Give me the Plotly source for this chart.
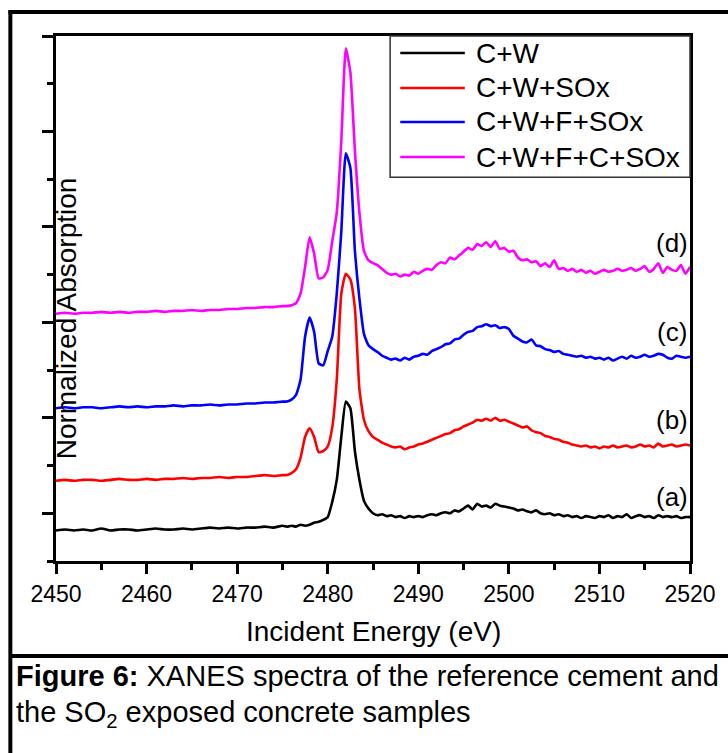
import plotly.graph_objects as go

# ---- data ----
energy_a = [2450, 2451, 2452, 2453, 2454, 2455, 2456, 2457, 2458, 2459,
            2460, 2461, 2462, 2463, 2464, 2465, 2466, 2467, 2468, 2469,
            2470, 2471, 2472, 2473, 2474, 2475]
energy_b = [2475.5, 2476, 2476.5, 2477, 2477.5, 2478, 2478.5, 2479, 2479.5, 2480,
            2480.5, 2481, 2481.5, 2482, 2482.5, 2483, 2483.5, 2484, 2484.5, 2485,
            2485.5, 2486]
energy_c = [2486.5, 2487, 2487.5, 2488, 2488.5, 2489, 2489.5, 2490, 2490.5, 2491,
            2491.5, 2492, 2492.5, 2493, 2493.5, 2494, 2494.5, 2495, 2495.5, 2496,
            2496.5, 2497, 2497.5, 2498, 2498.5, 2499, 2499.5, 2500, 2500.5, 2501,
            2501.5, 2502, 2502.5, 2503, 2503.5, 2504, 2504.5, 2505, 2505.5, 2506,
            2506.5, 2507, 2507.5, 2508, 2508.5, 2509, 2509.5, 2510, 2510.5, 2511,
            2511.5, 2512, 2512.5, 2513, 2513.5, 2514, 2514.5, 2515, 2515.5, 2516,
            2516.5, 2517, 2517.5, 2518, 2518.5, 2519, 2519.5, 2520]
energy = energy_a + energy_b + energy_c

cw = ([0.32, 0.33, 0.32, 0.33, 0.32, 0.34, 0.32, 0.33, 0.33, 0.32,
       0.33, 0.34, 0.33, 0.33, 0.34, 0.33, 0.34, 0.35, 0.34, 0.35,
       0.34, 0.35, 0.35, 0.36, 0.35, 0.37]
      + [0.36, 0.37, 0.36, 0.38, 0.37, 0.38, 0.40, 0.41, 0.43, 0.46,
         0.62, 0.85, 1.30, 1.67, 1.60, 1.15, 0.85, 0.63, 0.55, 0.50,
         0.48, 0.49]
      + [0.47, 0.48, 0.46, 0.47, 0.45, 0.47, 0.46, 0.47, 0.46, 0.48,
         0.49, 0.48, 0.50, 0.51, 0.50, 0.53, 0.52, 0.55, 0.58, 0.54,
         0.60, 0.57, 0.58, 0.56, 0.60, 0.58, 0.57, 0.56, 0.55, 0.53,
         0.54, 0.52, 0.51, 0.53, 0.50, 0.49, 0.50, 0.48, 0.49, 0.47,
         0.48, 0.46, 0.47, 0.45, 0.47, 0.46, 0.45, 0.47, 0.46, 0.48,
         0.45, 0.47, 0.46, 0.49, 0.45, 0.47, 0.48, 0.46, 0.47, 0.45,
         0.48, 0.46, 0.47, 0.46, 0.47, 0.45, 0.46, 0.46])

cw_sox = ([0.84, 0.85, 0.84, 0.85, 0.85, 0.84, 0.85, 0.86, 0.85, 0.85,
           0.86, 0.85, 0.86, 0.86, 0.87, 0.86, 0.87, 0.87, 0.88, 0.87,
           0.88, 0.88, 0.89, 0.90, 0.89, 0.90]
          + [0.90, 0.92, 0.96, 1.08, 1.30, 1.39, 1.30, 1.14, 1.15, 1.20,
             1.40, 1.90, 2.80, 3.01, 2.95, 2.65, 1.80, 1.48, 1.36, 1.30,
             1.27, 1.24]
          + [1.22, 1.20, 1.19, 1.20, 1.17, 1.19, 1.20, 1.22, 1.23, 1.25,
             1.27, 1.29, 1.31, 1.33, 1.34, 1.37, 1.38, 1.41, 1.43, 1.45,
             1.48, 1.47, 1.49, 1.47, 1.50, 1.47, 1.48, 1.46, 1.44, 1.42,
             1.40, 1.41, 1.37, 1.35, 1.34, 1.31, 1.30, 1.28, 1.27, 1.25,
             1.24, 1.22, 1.21, 1.20, 1.21, 1.19, 1.20, 1.18, 1.20, 1.19,
             1.21, 1.19, 1.20, 1.21, 1.19, 1.20, 1.22, 1.20, 1.21, 1.19,
             1.23, 1.20, 1.21, 1.22, 1.20, 1.21, 1.22, 1.21])

cwf_sox = ([1.60, 1.61, 1.60, 1.61, 1.61, 1.60, 1.61, 1.62, 1.61, 1.62,
            1.61, 1.62, 1.62, 1.63, 1.62, 1.63, 1.63, 1.64, 1.63, 1.64,
            1.64, 1.65, 1.65, 1.66, 1.66, 1.67]
           + [1.67, 1.69, 1.74, 1.90, 2.35, 2.55, 2.40, 2.07, 2.05, 2.20,
              2.35, 2.80, 3.45, 4.27, 4.12, 3.25, 2.75, 2.38, 2.26, 2.22,
              2.19, 2.15]
           + [2.13, 2.11, 2.12, 2.10, 2.13, 2.11, 2.14, 2.15, 2.17, 2.16,
              2.20, 2.22, 2.24, 2.27, 2.28, 2.32, 2.33, 2.37, 2.40, 2.41,
              2.45, 2.46, 2.48, 2.46, 2.47, 2.44, 2.45, 2.43, 2.36, 2.33,
              2.30, 2.29, 2.32, 2.26, 2.25, 2.22, 2.21, 2.19, 2.20, 2.17,
              2.16, 2.15, 2.14, 2.15, 2.13, 2.14, 2.12, 2.13, 2.11, 2.13,
              2.10, 2.12, 2.14, 2.12, 2.15, 2.13, 2.14, 2.16, 2.14, 2.15,
              2.17, 2.16, 2.13, 2.12, 2.15, 2.14, 2.13, 2.14])

cwfc_sox = ([2.59, 2.60, 2.59, 2.60, 2.60, 2.61, 2.60, 2.61, 2.60, 2.61,
             2.61, 2.62, 2.61, 2.62, 2.62, 2.63, 2.62, 2.63, 2.63, 2.64,
             2.64, 2.65, 2.65, 2.66, 2.66, 2.67]
            + [2.67, 2.68, 2.70, 2.80, 3.08, 3.39, 3.22, 2.96, 2.97, 3.05,
               3.35, 3.65, 4.40, 5.37, 5.12, 4.30, 3.65, 3.25, 3.15, 3.12,
               3.10, 3.06]
            + [3.02, 3.00, 3.01, 2.98, 3.00, 2.99, 3.03, 3.01, 3.04, 3.06,
               3.05, 3.10, 3.13, 3.12, 3.18, 3.16, 3.20, 3.24, 3.28, 3.26,
               3.32, 3.30, 3.34, 3.29, 3.35, 3.27, 3.28, 3.24, 3.25, 3.18,
               3.15, 3.16, 3.13, 3.14, 3.09, 3.12, 3.08, 3.15, 3.06, 3.07,
               3.04, 3.06, 3.03, 3.05, 3.02, 3.04, 3.01, 3.03, 3.05, 3.03,
               3.04, 3.06, 3.04, 3.05, 3.07, 3.04, 3.06, 3.09, 3.03, 3.06,
               3.12, 3.02, 3.08, 3.05, 3.04, 3.10, 3.01, 3.08])

series_names = ["C+W", "C+W+SOx", "C+W+F+SOx", "C+W+F+C+SOx"]
series_values = [cw, cw_sox, cwf_sox, cwfc_sox]
series_colors = ["#000000", "#ff0000", "#0000ff", "#ff00ff"]

curve_labels = ["(a)", "(b)", "(c)", "(d)"]
curve_label_x = [2518.0, 2518.0, 2518.0, 2518.0]
curve_label_y = [0.67, 1.48, 2.40, 3.33]

x_ticks = [2450, 2460, 2470, 2480, 2490, 2500, 2510, 2520]
x_minor = [2455, 2465, 2475, 2485, 2495, 2505, 2515]
y_ticks = [0.5, 1.5, 2.5, 3.5, 4.5, 5.5]
y_minor = [0, 1, 2, 3, 4, 5]

for v in series_values:
    assert len(v) == len(energy), (len(v), len(energy))

FONT = "Arial, Liberation Sans, sans-serif"

fig = go.Figure()
for name, vals, col in zip(series_names, series_values, series_colors):
    fig.add_trace(go.Scatter(
        x=energy, y=vals, mode="lines", name=name, showlegend=False,
        line=dict(color=col, width=2.6, shape="spline", smoothing=0.5),
    ))

annotations = []
for t, xx, yy in zip(curve_labels, curve_label_x, curve_label_y):
    annotations.append(dict(x=xx, y=yy, xref="x", yref="y", text=t,
                            showarrow=False, font=dict(family=FONT, size=26, color="black")))

# axis titles
annotations.append(dict(x=0.5, y=-0.135, xref="paper", yref="paper",
                        text="Incident Energy (eV)", showarrow=False,
                        xanchor="center", yanchor="middle",
                        font=dict(family=FONT, size=28, color="black")))
annotations.append(dict(x=0.018, y=0.463, xref="paper", yref="paper",
                        text="Normalized Absorption", showarrow=False, textangle=-90,
                        xanchor="center", yanchor="middle",
                        font=dict(family=FONT, size=28, color="black")))
# caption
annotations.append(dict(x=-0.066, y=-0.219, xref="paper", yref="paper",
                        text="<b>Figure 6:</b> XANES spectra of the reference cement and",
                        showarrow=False, xanchor="left", yanchor="middle",
                        font=dict(family=FONT, size=29, color="black")))
annotations.append(dict(x=-0.066, y=-0.292, xref="paper", yref="paper",
                        text="the SO<sub>2</sub> exposed concrete samples",
                        showarrow=False, xanchor="left", yanchor="middle",
                        font=dict(family=FONT, size=29, color="black")))

shapes = [
    # legend box
    dict(type="rect", xref="paper", yref="paper", x0=0.527, x1=1.0, y0=0.731, y1=1.0,
         line=dict(color="#333333", width=1.5), fillcolor="white", layer="above"),
    # outer frame: top, left, caption divider
    dict(type="line", xref="paper", yref="paper", x0=-0.075, x1=1.06, y0=1.0457, y1=1.0457,
         line=dict(color="black", width=4)),
    dict(type="line", xref="paper", yref="paper", x0=-0.072, x1=-0.072, y0=1.049, y1=-0.37,
         line=dict(color="black", width=4)),
    dict(type="line", xref="paper", yref="paper", x0=-0.072, x1=1.06, y0=-0.181, y1=-0.181,
         line=dict(color="black", width=4)),
]

# legend entries (sample line + label), one row per series
legend_rows_y = [0.9676, 0.9010, 0.8362, 0.7695]
for name, col, ly in zip(series_names, series_colors, legend_rows_y):
    shapes.append(dict(type="line", xref="paper", yref="paper", x0=0.543, x1=0.6448,
                       y0=ly, y1=ly, line=dict(color=col, width=2.6), layer="above"))
    annotations.append(dict(x=0.6588, y=ly, xref="paper", yref="paper", text=name,
                            showarrow=False, xanchor="left", yanchor="middle",
                            font=dict(family=FONT, size=28, color="black")))

fig.update_layout(
    width=728, height=753,
    margin=dict(l=56, r=33, t=36, b=192),
    paper_bgcolor="white", plot_bgcolor="white",
    font=dict(family=FONT, color="black"),
    showlegend=False,
    annotations=annotations,
    shapes=shapes,
    xaxis=dict(range=[2450, 2520], tickmode="array", tickvals=x_ticks,
               ticks="outside", ticklen=10, tickwidth=3, tickcolor="black",
               showline=True, linewidth=3, linecolor="black", mirror=True,
               showgrid=False, zeroline=False,
               tickfont=dict(family=FONT, size=23, color="black"),
               minor=dict(tickmode="array", tickvals=x_minor, ticks="outside",
                          ticklen=6, tickwidth=3, tickcolor="black", showgrid=False)),
    yaxis=dict(range=[0, 5.5], tickmode="array", tickvals=y_ticks,
               showticklabels=False,
               ticks="outside", ticklen=11, tickwidth=3, tickcolor="black",
               showline=True, linewidth=3, linecolor="black", mirror=True,
               showgrid=False, zeroline=False,
               minor=dict(tickmode="array", tickvals=y_minor, ticks="outside",
                          ticklen=6, tickwidth=3, tickcolor="black", showgrid=False)),
)

fig.write_html("out.html", config={"displayModeBar": False},
               post_script="document.body.style.margin='0';document.body.style.overflow='hidden';")
